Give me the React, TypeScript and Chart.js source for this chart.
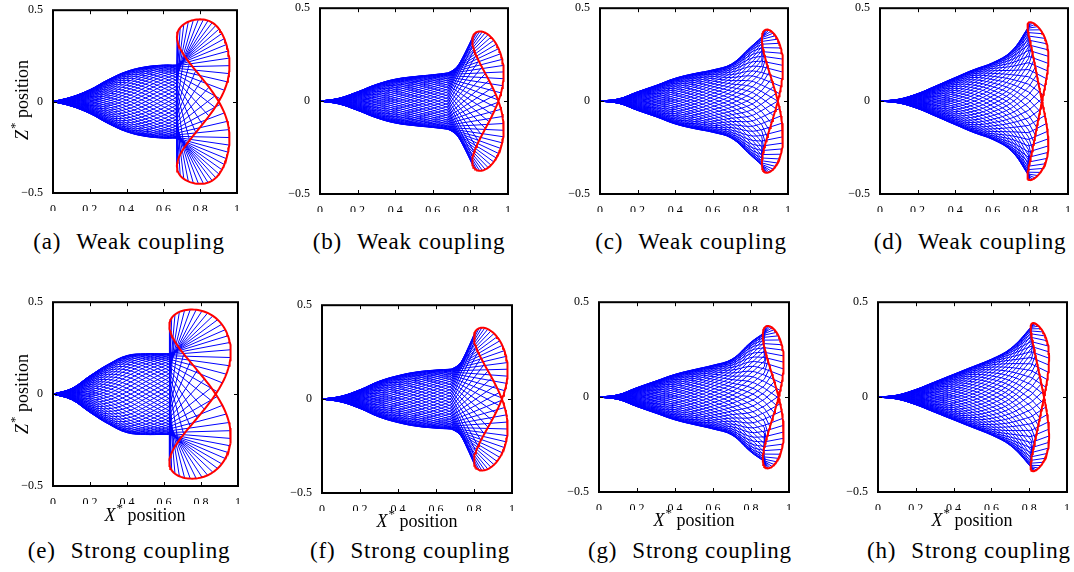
import React, { useEffect, useRef } from "react";
import { Chart, registerables } from "chart.js";

Chart.register(...registerables);

// ---------------- data ----------------
const FRAME_COUNT = 60;
const TRACE_SAMPLES = 180;

const panelLetters = ["a", "b", "c", "d", "e", "f", "g", "h"];
const couplingNames = [
  "Weak coupling", "Weak coupling", "Weak coupling", "Weak coupling",
  "Strong coupling", "Strong coupling", "Strong coupling", "Strong coupling",
];
const xTickValues = [0, 0.2, 0.4, 0.6, 0.8, 1];
const zTickValues = [-0.5, 0, 0.5];

// body node positions along X* for every panel
const bodyNodeX = [
  [0, 0.1, 0.2, 0.3, 0.4, 0.5, 0.6, 0.67],
  [0, 0.1, 0.2, 0.3, 0.4, 0.5, 0.6, 0.68],
  [0, 0.1, 0.2, 0.3, 0.4, 0.5, 0.6, 0.7, 0.8, 0.86],
  [0, 0.1, 0.2, 0.3, 0.4, 0.5, 0.6, 0.7, 0.79],
  [0, 0.1, 0.2, 0.3, 0.4, 0.5, 0.6, 0.63],
  [0, 0.1, 0.2, 0.3, 0.4, 0.5, 0.6, 0.68],
  [0, 0.1, 0.2, 0.3, 0.4, 0.5, 0.6, 0.7, 0.8, 0.87],
  [0, 0.1, 0.2, 0.3, 0.4, 0.5, 0.6, 0.7, 0.81],
];
// envelope amplitude of Z* at each node
const bodyAmplitude = [
  [0, 0.025, 0.065, 0.12, 0.165, 0.19, 0.2, 0.2],
  [0, 0.015, 0.05, 0.09, 0.118, 0.132, 0.142, 0.152],
  [0, 0.012, 0.05, 0.085, 0.123, 0.148, 0.168, 0.2, 0.29, 0.345],
  [0, 0.01, 0.04, 0.083, 0.127, 0.17, 0.207, 0.27, 0.4],
  [0, 0.03, 0.1, 0.163, 0.21, 0.22, 0.22, 0.22],
  [0, 0.015, 0.05, 0.095, 0.125, 0.145, 0.155, 0.16],
  [0, 0.012, 0.05, 0.085, 0.12, 0.145, 0.168, 0.2, 0.29, 0.34],
  [0, 0.01, 0.04, 0.08, 0.12, 0.16, 0.2, 0.255, 0.37],
];
// phase lag (rad) at each node
const bodyPhase = [
  [0, 0.25, 0.5, 0.75, 1.0, 1.25, 1.5, 1.68],
  [0, 0.25, 0.5, 0.75, 1.0, 1.25, 1.5, 1.7],
  [0, 0.25, 0.5, 0.75, 1.0, 1.25, 1.5, 1.72, 1.92, 2.05],
  [0, 0.25, 0.5, 0.75, 1.0, 1.25, 1.5, 1.75, 1.97],
  [0, 0.25, 0.5, 0.75, 1.0, 1.25, 1.5, 1.58],
  [0, 0.25, 0.5, 0.75, 1.0, 1.25, 1.5, 1.7],
  [0, 0.25, 0.5, 0.75, 1.0, 1.25, 1.5, 1.72, 1.92, 2.06],
  [0, 0.25, 0.5, 0.75, 1.0, 1.25, 1.5, 1.75, 2.02],
];
// tip (red) trajectory readings
const tipCentreX = [0.83, 0.895, 0.917, 0.838, 0.803, 0.89, 0.917, 0.855];
const tipSwingX = [0.14, 0.083, 0.056, 0.0535, 0.165, 0.088, 0.055, 0.048];
const tipSkew = [-1.2, -0.94, -1.03, -0.94, -1.17, -0.94, -1.03, -0.94];
const tipBulge = [0.02, 0.005, 0, -0.008, 0.012, 0.005, 0, -0.005];
const tipAmplitudeZ = [0.45, 0.375, 0.385, 0.425, 0.46, 0.38, 0.375, 0.39];
const tipLag = [0.8, 0.8, 0.15, 0.15, 0.8, 0.8, 0.15, 0.15];

// ---------------- layout ----------------
const plotBoxes = [
  [53, 9, 237, 193], [320, 7, 508, 194], [600, 7, 788, 194], [880, 7, 1068, 194],
  [53, 301, 238, 486], [322, 304, 512, 493], [599, 301, 789, 492], [878, 301, 1067, 492],
];
const captionCentres = [[129, 241], [409, 241], [691, 241], [970, 241], [129, 550], [410, 550], [690, 550], [969, 550]];
const yTitleCentres = [[22, 100], [22, 394]];
const xTitleCentres = [[145, 515], [417, 521], [694, 520], [972, 520]];

const Y_AXIS_W = 40;
const X_AXIS_H = 18;
const PAD = 8;
const SERIF = "'Liberation Serif', 'Times New Roman', serif";
const BLUE = "#0000ff";
const RED = "#ff0000";

function tipAt(p: number, t: number) {
  const ph = bodyPhase[p];
  const u = t - ph[ph.length - 1] - tipLag[p];
  return {
    x: tipCentreX[p] + tipSwingX[p] * Math.cos(2 * u + tipSkew[p]) + tipBulge[p] * Math.cos(4 * u),
    y: tipAmplitudeZ[p] * Math.sin(u),
  };
}

function fmtTick(v: number) {
  if (Math.abs(v) < 1e-9) return "0";
  if (v < 0) return "\u2212" + String(Math.abs(v));
  return String(v);
}

const framePlugin = {
  id: "matlabFrame",
  afterDatasetsDraw(chart: any) {
    const { ctx, chartArea: a, scales } = chart;
    ctx.save();
    ctx.strokeStyle = "#000";
    ctx.lineWidth = 1;
    ctx.beginPath();
    xTickValues.forEach((v) => {
      const px = Math.round(scales.x.getPixelForValue(v)) + 0.5;
      ctx.moveTo(px, a.bottom); ctx.lineTo(px, a.bottom - 4);
      ctx.moveTo(px, a.top); ctx.lineTo(px, a.top + 4);
    });
    zTickValues.forEach((v) => {
      const py = Math.round(scales.y.getPixelForValue(v)) + 0.5;
      ctx.moveTo(a.left, py); ctx.lineTo(a.left + 4, py);
      ctx.moveTo(a.right, py); ctx.lineTo(a.right - 4, py);
    });
    ctx.stroke();
    ctx.lineWidth = 2;
    ctx.strokeRect(a.left, a.top, a.right - a.left, a.bottom - a.top);
    ctx.restore();
  },
};

function Panel({ index }: { index: number }) {
  const ref = useRef<HTMLCanvasElement>(null);
  const [L, T, R, B] = plotBoxes[index];
  const w = R - L + Y_AXIS_W + PAD;
  const h = B - T + PAD + X_AXIS_H;

  useEffect(() => {
    const datasets: any[] = [];
    const trace: { x: number; y: number }[] = [];
    for (let s = 0; s <= TRACE_SAMPLES; s++) trace.push(tipAt(index, (2 * Math.PI * s) / TRACE_SAMPLES));
    datasets.push({ data: trace, borderColor: RED, borderWidth: 2, tension: 0, pointRadius: 0 });
    for (let f = 0; f < FRAME_COUNT; f++) {
      const t = (2 * Math.PI * f) / FRAME_COUNT;
      const body = bodyNodeX[index].map((x, k) => ({
        x,
        y: bodyAmplitude[index][k] * Math.sin(t - bodyPhase[index][k]),
      }));
      const last = body[body.length - 1];
      const tip = tipAt(index, t);
      datasets.push({ data: body, borderColor: BLUE, borderWidth: 1, tension: 0.4, pointRadius: 0 });
      datasets.push({ data: [last, tip], borderColor: BLUE, borderWidth: 1, tension: 0, pointRadius: 0 });
    }
    const tickFont = { family: SERIF, size: 12 };
    const chart = new Chart(ref.current as HTMLCanvasElement, {
      type: "line",
      data: { datasets },
      options: {
        responsive: false,
        animation: false,
        devicePixelRatio: 1,
        events: [],
        layout: { padding: { top: PAD, right: PAD, left: 0, bottom: 0 } },
        plugins: { legend: { display: false }, tooltip: { enabled: false } },
        elements: { point: { radius: 0 } },
        scales: {
          x: {
            type: "linear", min: 0, max: 1,
            grid: { display: false }, border: { display: false },
            afterBuildTicks: (s: any) => { s.ticks = xTickValues.map((v) => ({ value: v })); },
            afterFit: (s: any) => { s.height = X_AXIS_H; },
            ticks: { font: tickFont, color: "#000", padding: 2, maxRotation: 0, autoSkip: false, callback: (v: any) => fmtTick(Number(v)) },
          },
          y: {
            type: "linear", min: -0.5, max: 0.5,
            grid: { display: false }, border: { display: false },
            afterBuildTicks: (s: any) => { s.ticks = zTickValues.map((v) => ({ value: v })); },
            afterFit: (s: any) => { s.width = Y_AXIS_W; },
            ticks: { font: tickFont, color: "#000", padding: 2, autoSkip: false, callback: (v: any) => fmtTick(Number(v)) },
          },
        },
      } as any,
      plugins: [framePlugin],
    });
    return () => chart.destroy();
  }, [index]);

  return (
    <canvas
      ref={ref}
      width={w}
      height={h}
      style={{ position: "absolute", left: L - Y_AXIS_W, top: T - PAD, width: w, height: h }}
    />
  );
}

const titleStyle: React.CSSProperties = {
  position: "absolute", fontFamily: SERIF, fontSize: 18, color: "#000", whiteSpace: "nowrap", lineHeight: 1,
};

function AxisWord({ letter }: { letter: string }) {
  return (
    <span>
      <i>{letter}</i>
      <span style={{ fontSize: 13, position: "relative", top: -9, marginLeft: 1 }}>*</span>
      {"\u00a0"}position
    </span>
  );
}

export default function App() {
  return (
    <div style={{ position: "absolute", left: 0, top: 0, width: 1074, height: 572, overflow: "hidden", background: "#fff" }}>
      {panelLetters.map((_, i) => <Panel key={i} index={i} />)}
      {yTitleCentres.map(([x, y], i) => (
        <div key={"yt" + i} style={{ ...titleStyle, left: x, top: y, transform: "translate(-50%, -50%) rotate(-90deg)" }}>
          <AxisWord letter="Z" />
        </div>
      ))}
      {xTitleCentres.map(([x, y], i) => (
        <div key={"xt" + i} style={{ ...titleStyle, left: x, top: y, transform: "translate(-50%, -50%)" }}>
          <AxisWord letter="X" />
        </div>
      ))}
      {captionCentres.map(([x, y], i) => (
        <div key={"cap" + i} style={{ ...titleStyle, fontSize: 23, letterSpacing: 0.8, left: x, top: y, transform: "translate(-50%, -50%)" }}>
          ({panelLetters[i]})<span style={{ display: "inline-block", width: 15 }} />{couplingNames[i]}
        </div>
      ))}
    </div>
  );
}
